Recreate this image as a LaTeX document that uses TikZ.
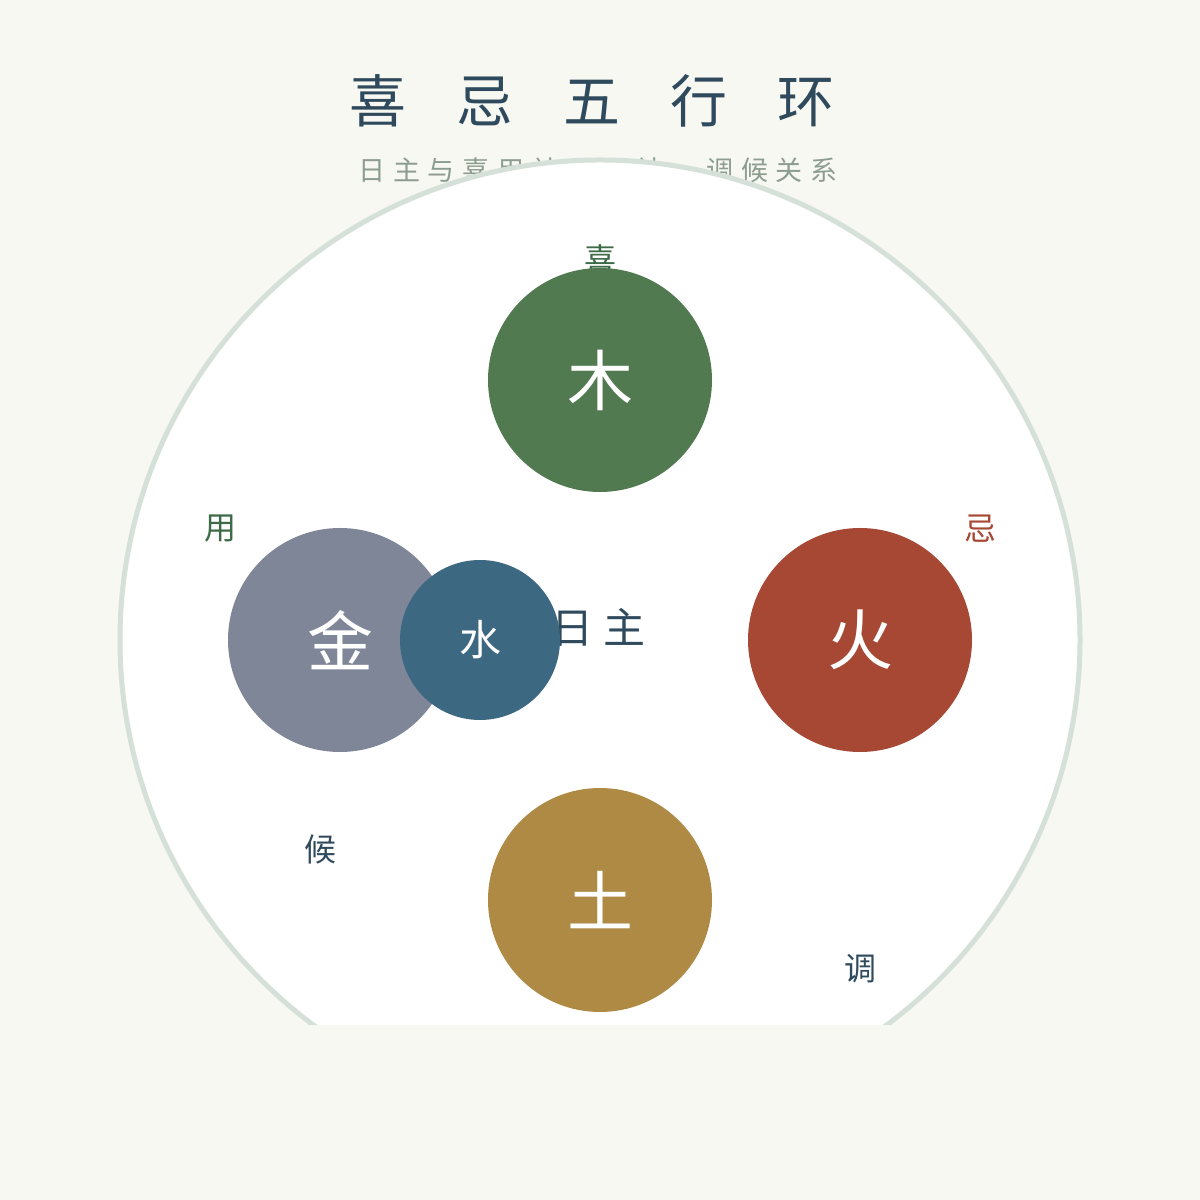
\documentclass[tikz,border=0pt]{standalone}
\usepackage{fontspec}
\newfontfamily\song{Noto Sans CJK SC}
\newfontfamily\hei{Noto Sans CJK SC}
\definecolor{bgc}{HTML}{F8F8F3}
\definecolor{ringc}{HTML}{D5E0D8}
\definecolor{titlec}{HTML}{2E4A5C}
\definecolor{subc}{HTML}{8C9C8E}
\definecolor{woodc}{HTML}{527A50}
\definecolor{firec}{HTML}{A64833}
\definecolor{metalc}{HTML}{7F8697}
\definecolor{waterc}{HTML}{3D6882}
\definecolor{earthc}{HTML}{AE8A45}
\definecolor{greenc}{HTML}{3D6B48}
\newcommand{\dn}[1]{\raisebox{-6pt}{#1}}
\tikzset{
  elem/.style={circle, fill=#1, minimum size=224pt, inner sep=0pt, text=white, font=\song\fontsize{66}{66}\selectfont},
  tag/.style={text=#1, font=\song\fontsize{32}{32}\selectfont, inner sep=0pt},
}
\begin{document}
\begin{tikzpicture}[x=1pt,y=1pt]
\fill[bgc] (0,0) rectangle (1200,1200);
\useasboundingbox (0,0) rectangle (1200,1200);
\node[text=titlec, font=\song\fontsize{57}{57}\selectfont, inner sep=0pt] (title) at (592,1099)
  {喜\hspace{50pt}忌\hspace{50pt}五\hspace{50pt}行\hspace{50pt}环};
\node[text=subc, font=\hei\fontsize{27}{27}\selectfont, inner sep=0pt] (subtitle) at (598,1030)
  {日\hspace{7.8pt}主\hspace{7.8pt}与\hspace{7.8pt}喜\hspace{7.8pt}用\hspace{7.8pt}神\hspace{7.8pt}、\hspace{7.8pt}忌\hspace{7.8pt}神\hspace{7.8pt}、\hspace{7.8pt}调\hspace{7.8pt}候\hspace{7.8pt}关\hspace{7.8pt}系};
\begin{scope}
  \clip (0,175) rectangle (1200,1200);
  \draw[ringc, line width=5pt, fill=white] (600,560) circle[radius=480];
\end{scope}
\node[text=titlec, font=\song\fontsize{42}{42}\selectfont, inner sep=0pt] (rizhu) at (598,573) {日\hspace{10pt}主};
\node[tag=greenc] (xi) at (600,941) {喜};
\node[tag=greenc] (yong) at (220,671) {用};
\node[tag=firec] (ji) at (980,671) {忌};
\node[tag=titlec] (hou) at (320,351) {候};
\node[tag=titlec] (tiao) at (860,231) {调};
\node[elem=woodc] (wood) at (600,820) {\dn{木}};
\node[elem=firec] (fire) at (860,560) {\dn{火}};
\node[elem=metalc] (metal) at (340,560) {\dn{金}};
\node[elem=waterc, minimum size=160pt, font=\song\fontsize{42}{42}\selectfont] (water) at (480,560) {\raisebox{-3pt}{水}};
\node[elem=earthc] (earth) at (600,300) {\dn{土}};
\end{tikzpicture}
\end{document}
